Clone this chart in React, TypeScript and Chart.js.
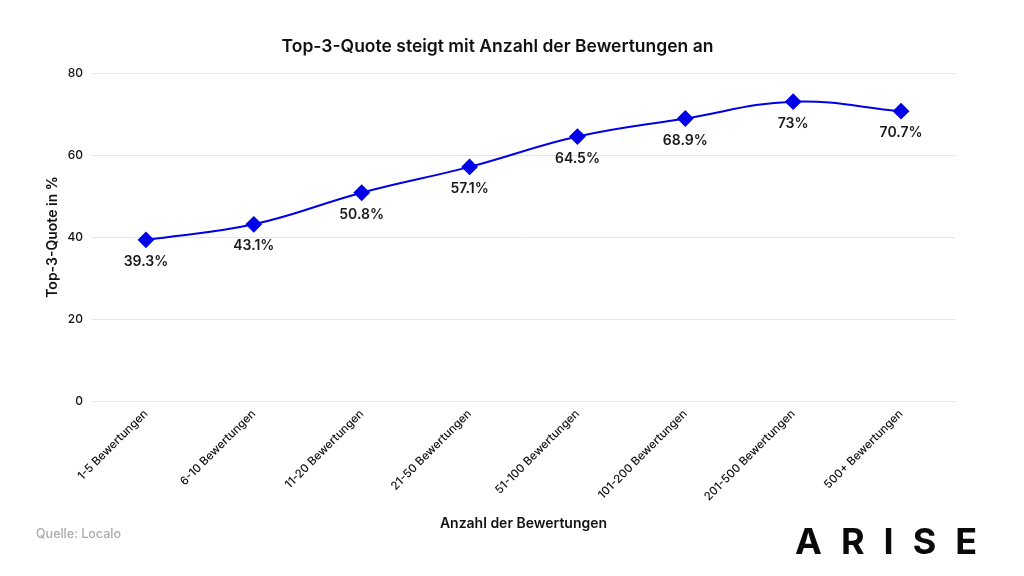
import React, { useEffect, useRef } from "react";
import { Chart, registerables } from "chart.js";

Chart.register(...registerables);

const categories = [
  "1-5 Bewertungen",
  "6-10 Bewertungen",
  "11-20 Bewertungen",
  "21-50 Bewertungen",
  "51-100 Bewertungen",
  "101-200 Bewertungen",
  "201-500 Bewertungen",
  "500+ Bewertungen",
];
const quote = [39.3, 43.1, 50.8, 57.1, 64.5, 68.9, 73, 70.7];
const yTicks = [0, 20, 40, 60, 80];

const FONT = "Inter, 'Noto Sans', sans-serif";
const BLUE = "#0000e8";

// writes the value under each point
const valueLabels = {
  id: "valueLabels",
  afterDatasetsDraw(chart: any) {
    const ctx = chart.ctx;
    const meta = chart.getDatasetMeta(0);
    ctx.save();
    ctx.font = `600 14px ${FONT}`;
    ctx.fillStyle = "#1a1a1a";
    ctx.textAlign = "center";
    ctx.textBaseline = "middle";
    meta.data.forEach((pt: any, i: number) => {
      ctx.fillText(quote[i] + "%", pt.x, pt.y + 22);
    });
    ctx.restore();
  },
};

export default function App() {
  const canvasRef = useRef<HTMLCanvasElement | null>(null);
  const chartRef = useRef<Chart | null>(null);

  useEffect(() => {
    document.body.style.margin = "0";
    const ctx = canvasRef.current?.getContext("2d");
    if (!ctx) return;
    if (chartRef.current) chartRef.current.destroy();

    chartRef.current = new Chart(ctx, {
      type: "line",
      data: {
        labels: categories,
        datasets: [
          {
            data: quote,
            borderColor: BLUE,
            backgroundColor: BLUE,
            borderWidth: 2,
            tension: 0.4,
            pointStyle: "rectRot",
            pointRadius: 7,
            pointHoverRadius: 7,
          },
        ],
      },
      options: {
        responsive: false,
        animation: false,
        layout: { padding: { left: 40, right: 69, top: 36, bottom: 40 } },
        plugins: {
          legend: { display: false },
          tooltip: { enabled: false },
          title: {
            display: true,
            text: "Top-3-Quote steigt mit Anzahl der Bewertungen an",
            color: "#111",
            font: { family: FONT, size: 17.5, weight: "600" },
            padding: { top: 0, bottom: 16 },
          },
        },
        scales: {
          x: {
            offset: true,
            grid: { display: false, drawTicks: false },
            border: { display: false },
            ticks: {
              color: "#111",
              font: { family: FONT, size: 11.5, weight: "500" },
              minRotation: 45,
              maxRotation: 45,
              padding: 6,
            },
            title: {
              display: true,
              text: "Anzahl der Bewertungen",
              color: "#111",
              font: { family: FONT, size: 14, weight: "600" },
            },
            afterFit: (s: any) => {
              s.height = 576 - 401 - 40;
            },
          },
          y: {
            min: 0,
            max: 80,
            afterBuildTicks: (s: any) => {
              s.ticks = yTicks.map((v) => ({ value: v }));
            },
            grid: { color: "#e6e6e6", drawTicks: false },
            border: { display: false },
            ticks: {
              color: "#111",
              font: { family: FONT, size: 12, weight: "500" },
              padding: 9,
            },
            title: {
              display: true,
              text: "Top-3-Quote in %",
              color: "#111",
              font: { family: FONT, size: 14, weight: "600" },
            },
            afterFit: (s: any) => {
              s.width = 52;
            },
          },
        },
      },
      plugins: [valueLabels],
    });

    return () => {
      if (chartRef.current) {
        chartRef.current.destroy();
        chartRef.current = null;
      }
    };
  }, []);

  return (
    <div style={{ position: "relative", width: 1024, height: 576, background: "#fff" }}>
      <canvas ref={canvasRef} width={1024} height={576}></canvas>
      <div
        style={{
          position: "absolute",
          left: 36,
          top: 526,
          fontFamily: FONT,
          fontSize: 12.5,
          fontWeight: 500,
          color: "#aaaaaa",
        }}
      >
        Quelle: Localo
      </div>
      <div
        style={{
          position: "absolute",
          left: 795,
          top: 519,
          fontFamily: FONT,
          fontSize: 36,
          fontWeight: 700,
          letterSpacing: 19,
          color: "#0a0a0a",
          lineHeight: "44px",
        }}
      >
        ARISE
      </div>
    </div>
  );
}
